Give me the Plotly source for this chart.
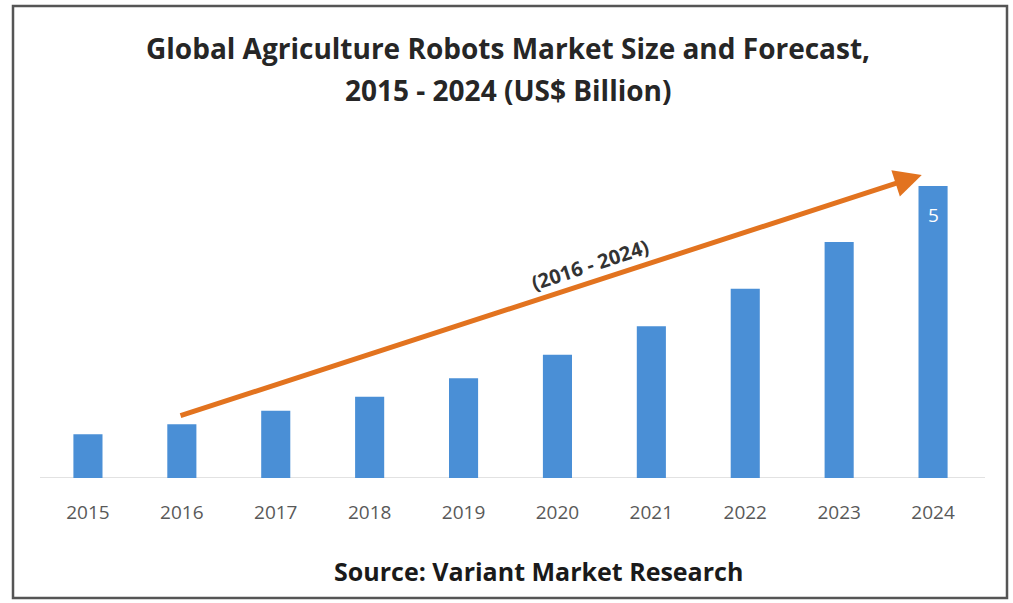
import plotly.graph_objects as go

years = [2015, 2016, 2017, 2018, 2019, 2020, 2021, 2022, 2023, 2024]
values = [0.75, 0.92, 1.15, 1.39, 1.71, 2.11, 2.60, 3.24, 4.04, 5.0]
tick_labels = [str(y) for y in years]
last_label = "5"
title_line1 = "Global Agriculture Robots Market Size and Forecast,"
title_line2 = "2015 - 2024 (US$ Billion)"
source_text = "Source: Variant Market Research"
arrow_label = "(2016 - 2024)"
arrow_start = (2015.97, 1.06)
arrow_end = (2024.0 - 0.12, 5.19)
arrow_label_pos = (2020.35, 3.66)

W, H = 1013, 603
ml, mr, mt, mb = 41, 33, 151, 125
pw, ph = W - ml - mr, H - mt - mb

def px(x):
    return (x - ml) / pw

def py(y):
    return 1 - (y - mt) / ph

fig = go.Figure()
fig.add_trace(go.Bar(
    x=years, y=values, marker=dict(color="#4A8FD6", line=dict(width=0)),
    width=0.31, hoverinfo="skip"))

fig.update_layout(
    width=W, height=H, margin=dict(l=ml, r=mr, t=mt, b=mb),
    paper_bgcolor="white", plot_bgcolor="white", showlegend=False,
    xaxis=dict(range=[2014.5, 2024.5], tickvals=years, ticktext=tick_labels,
               showgrid=False, zeroline=False, showline=False, ticks="",
               ticklabelstandoff=21,
               tickfont=dict(family="Open Sans", size=19, color="#595959")),
    yaxis=dict(range=[0, 5.6], visible=False, showgrid=False, zeroline=False),
)

# baseline axis
fig.add_shape(type="line", xref="paper", yref="y", x0=px(40), x1=px(985), y0=0, y1=0,
              line=dict(color="#D9D9D9", width=1.5), layer="below")
# outer border
fig.add_shape(type="rect", xref="paper", yref="paper", x0=px(13), x1=px(1007),
              y0=py(598), y1=py(6), line=dict(color="#555555", width=2.5))

# value label on last bar
fig.add_annotation(x=years[-1], y=values[-1], xref="x", yref="y", text=last_label,
                   showarrow=False, yanchor="top", yshift=-14,
                   font=dict(family="Open Sans", size=19, color="white"))

# arrow
fig.add_annotation(x=arrow_end[0], y=arrow_end[1], ax=arrow_start[0], ay=arrow_start[1],
                   xref="x", yref="y", axref="x", ayref="y", showarrow=True,
                   arrowhead=2, arrowsize=1.1, arrowwidth=5, arrowcolor="#E2731F", text="")
fig.add_annotation(x=arrow_label_pos[0], y=arrow_label_pos[1], xref="x", yref="y",
                   text="<b>" + arrow_label + "</b>",
                   showarrow=False, textangle=-18, xanchor="center", yanchor="middle",
                   font=dict(family="Open Sans", size=20, color="#333333"))

# titles
fig.add_annotation(x=px(508), y=py(48), xref="paper", yref="paper",
                   text="<b>" + title_line1 + "</b>", xanchor="center", yanchor="middle",
                   showarrow=False, font=dict(family="Open Sans", size=28, color="#262626"))
fig.add_annotation(x=px(508), y=py(90), xref="paper", yref="paper",
                   text="<b>" + title_line2 + "</b>", xanchor="center", yanchor="middle",
                   showarrow=False, font=dict(family="Open Sans", size=28, color="#262626"))
fig.add_annotation(x=px(538), y=py(571), xref="paper", yref="paper",
                   text="<b>" + source_text + "</b>", xanchor="center", yanchor="middle",
                   showarrow=False, font=dict(family="Open Sans", size=25, color="#1a1a1a"))

fig.write_html("out.html")
